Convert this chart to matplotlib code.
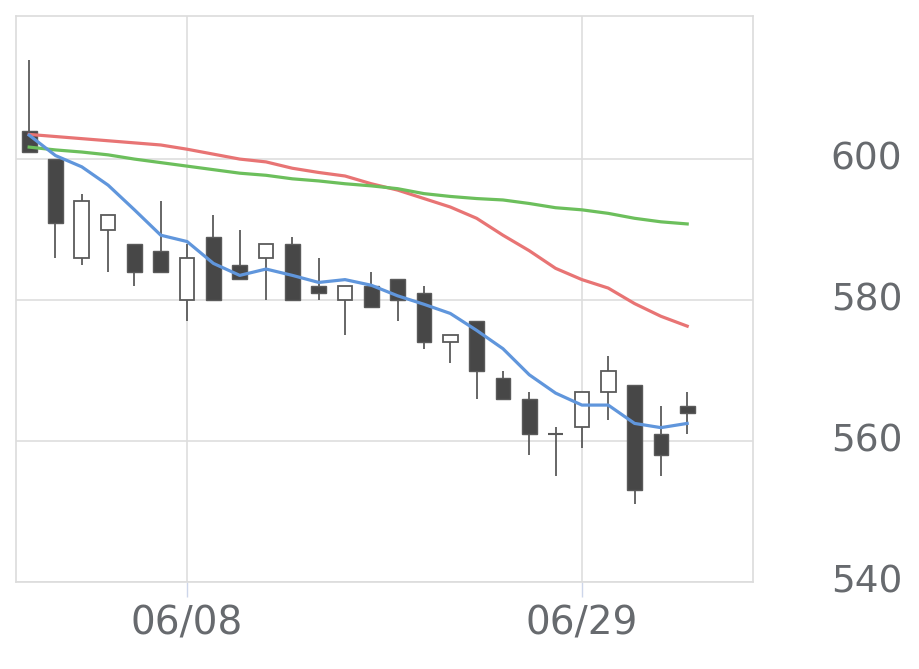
import numpy as np
import matplotlib
matplotlib.use('Agg')
import matplotlib.pyplot as plt

# OHLC (one candle per trading day)
opens  = [604, 600, 586, 590, 588, 587, 580, 589, 585, 586, 588, 582, 580,
          582, 583, 581, 574, 577, 569, 566, 561, 562, 567, 568, 561, 565]
highs  = [614, 600, 595, 592, 588, 594, 588, 592, 590, 588, 589, 586, 582,
          584, 583, 582, 575, 577, 570, 567, 562, 567, 572, 568, 565, 567]
lows   = [601, 586, 585, 584, 582, 584, 577, 580, 583, 580, 580, 580, 575,
          579, 577, 573, 571, 566, 566, 558, 555, 559, 563, 551, 555, 561]
closes = [601, 591, 594, 592, 584, 584, 586, 580, 583, 588, 580, 581, 582,
          579, 580, 574, 575, 570, 566, 561, 561, 567, 570, 553, 558, 564]

# moving averages
ma_short = [603.4, 600.5, 598.9, 596.3, 592.8, 589.2, 588.3, 585.2, 583.5, 584.4,
            583.5, 582.5, 582.9, 582.1, 580.6, 579.4, 578.1, 575.7, 573.1, 569.4,
            566.8, 565.1, 565.1, 562.5, 561.9, 562.5]
ma_mid = [603.5, 603.2, 602.9, 602.6, 602.3, 602.0, 601.4, 600.7, 600.0, 599.6,
          598.7, 598.1, 597.6, 596.5, 595.6, 594.4, 593.2, 591.6, 589.2, 587.0,
          584.5, 582.9, 581.7, 579.5, 577.7, 576.3]
ma_long = [601.7, 601.3, 601.0, 600.6, 600.0, 599.5, 599.0, 598.5, 598.0, 597.7,
           597.2, 596.9, 596.5, 596.2, 595.8, 595.1, 594.7, 594.4, 594.2, 593.7,
           593.1, 592.8, 592.3, 591.6, 591.1, 590.8]

tick_pos = [6, 21]
tick_labels = ['06/08', '06/29']
y_ticks = [540, 560, 580, 600]

fig = plt.figure(figsize=(9.2, 6.69), dpi=100)
ax = fig.add_axes([16/920, 1 - 582/669, (753 - 16)/920, (582 - 16)/669])

x = np.arange(len(opens))
w = 0.56
dark = '#474747'
edge = '#5a5a5a'

for i in x:
    o, h, l, c = opens[i], highs[i], lows[i], closes[i]
    ax.vlines(i, l, h, color=edge, linewidth=1.3, zorder=2)
    lo, hi = min(o, c), max(o, c)
    if c > o:
        ax.bar(i, hi - lo, width=w, bottom=lo, facecolor='white',
               edgecolor=edge, linewidth=1.3, zorder=3)
    elif c < o:
        ax.bar(i, hi - lo, width=w, bottom=lo, facecolor=dark,
               edgecolor=edge, linewidth=1.0, zorder=3)
    else:
        ax.hlines(o, i - w/2, i + w/2, color=edge, linewidth=1.5, zorder=3)

ax.plot(x, ma_mid, color='#e87474', linewidth=2.3, zorder=4)
ax.plot(x, ma_long, color='#6cbf5c', linewidth=2.3, zorder=4)
ax.plot(x, ma_short, color='#6096dc', linewidth=2.3, zorder=5)

ax.set_xlim(-0.5, 27.5)
ax.set_ylim(540, 620.3)
ax.set_yticks(y_ticks)
ax.set_xticks(tick_pos)
ax.set_xticklabels(tick_labels)

ax.yaxis.tick_right()
ax.tick_params(axis='y', length=0, pad=56, labelsize=27, labelcolor='#676a6e')
ax.tick_params(axis='x', length=11, width=1, color='#cdd6ea', pad=5,
               labelsize=28, labelcolor='#676a6e')
for lab in ax.get_yticklabels():
    lab.set_verticalalignment('center')

ax.grid(True, color='#dedede', linewidth=1.2, zorder=0)
ax.set_axisbelow(True)
for s in ax.spines.values():
    s.set_color('#dcdcdc')
    s.set_linewidth(1.2)

fig.savefig('out.png', dpi=100)
